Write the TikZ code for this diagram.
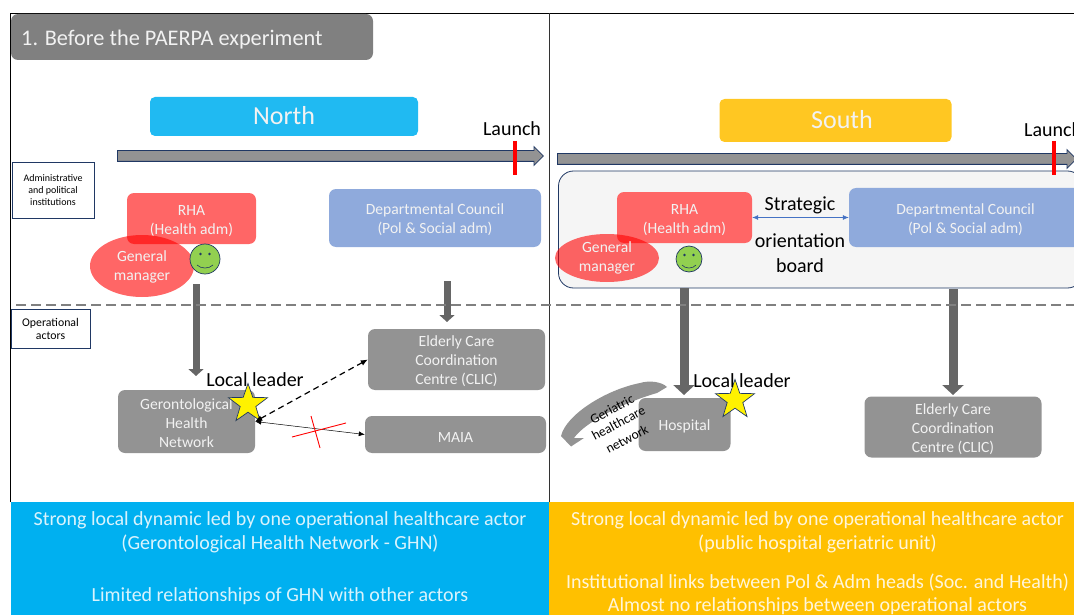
\documentclass[tikz,border=0pt]{standalone}
\usepackage{fontspec}
\setmainfont{Carlito}
\usetikzlibrary{arrows.meta,shapes.geometric,shapes.arrows}
\definecolor{navy}{HTML}{203864}
\definecolor{boxgrey}{HTML}{939393}
\definecolor{darkgrey}{HTML}{666666}
\definecolor{paleblue}{HTML}{8FAADC}
\definecolor{softred}{HTML}{FF6666}
\definecolor{northblue}{HTML}{20BAF2}
\definecolor{southgold}{HTML}{FFC722}
\definecolor{bannerblue}{HTML}{00B0F0}
\definecolor{bannergold}{HTML}{FFC000}
\definecolor{whitish}{HTML}{F2F2F2}
\definecolor{paneltint}{HTML}{F5F5F5}
\definecolor{facegreen}{HTML}{92D050}
\definecolor{linkblue}{HTML}{4472C4}
\newcommand{\fs}[2]{\fontsize{#1}{#2}\selectfont}
\newcommand{\st}{\rule{0pt}{15pt}}
\newcommand{\sm}{\rule{0pt}{12.5pt}}
\tikzset{
  x=1pt,y=-1pt,
  rbox/.style={rectangle,rounded corners=7pt,inner sep=0pt,align=center,text=whitish,font=\fs{15.6}{19}},
  redbox/.style={rbox,fill=softred},
  bluebox/.style={rbox,fill=paleblue},
  greybox/.style={rbox,fill=boxgrey},
  tagbox/.style={rectangle,draw=navy,line width=0.8pt,fill=white,inner sep=0pt,align=center,text=black},
  gm/.style={ellipse,fill=red,fill opacity=.6,text opacity=1,text=whitish,inner sep=0pt,align=center,font=\fs{15.6}{19.5}},
  face/.style={circle,draw=navy,line width=.7pt,fill=facegreen,inner sep=0pt},
  leader/.style={star,star points=5,star point ratio=2.5,draw=navy,line width=.7pt,fill=yellow,inner sep=0pt,minimum size=41pt},
  blocka/.style={draw=darkgrey,line width=7pt,-{Triangle[width=15pt,length=7pt,fill=darkgrey]}},
  blockb/.style={draw=darkgrey,line width=9pt,-{Triangle[width=21pt,length=10pt,fill=darkgrey]}},
  timeline/.style={single arrow,draw=navy,line width=.8pt,fill=boxgrey,anchor=tail,inner sep=0pt,inner ysep=5pt,single arrow head extend=4pt,single arrow head indent=0pt},
  bannertext/.style={align=center,text=white,text opacity=.85,font=\fs{20}{24}},
  label/.style={text=black,font=\fs{20}{24},inner sep=0pt},
  launchbar/.style={draw=red,line width=4pt},
  smalltilt/.style={rotate=28,font=\fs{13.5}{14},text=black,inner sep=0pt},
}
\begin{document}
\begin{tikzpicture}
\path[use as bounding box,clip] (0,0) rectangle (1074,615);
% banners
\fill[bannerblue] (11,502) rectangle (549,615);
\fill[bannergold] (549,502) rectangle (1074,615);
% frame
\draw[black,line width=1.4pt] (10.5,502) -- (10.5,13.5) -- (1074,13.5);
\draw[black!80,line width=.8pt] (549,13.5) -- (549,502);
% title
\node[rectangle,rounded corners=7pt,fill=black!50,minimum width=362pt,minimum height=46pt,inner sep=0pt] (title) at (192,37) {};
\node[anchor=west,text=whitish,font=\fs{22.3}{24},inner sep=0pt] (titletext) at (21,39.5) {1. Before the PAERPA experiment};
% region headers
\node[rbox,fill=northblue,minimum width=268pt,minimum height=39pt,font=\fs{26}{28},rounded corners=5pt] (north) at (284,116.5) {\raisebox{2pt}{North}};
\node[rbox,fill=southgold,minimum width=232pt,minimum height=43pt,font=\fs{26}{28},rounded corners=5pt] (south) at (835.5,120.5) {\hspace*{13pt}\raisebox{2pt}{South}};
% south panel
\node[rectangle,rounded corners=15pt,draw=navy,line width=.8pt,fill=paneltint,minimum width=524pt,minimum height=117pt,inner sep=0pt] (panel) at (820.5,229.5) {};
% timelines
\node[timeline,minimum height=426pt] (tln) at (117,156) {};
\node[timeline,minimum height=519pt] (tls) at (557,159) {};
\node[label,anchor=center] (launchn) at (512,129) {Launch};
\node[label,anchor=west] (launchs) at (1024,130) {Launch};
\coordinate (bar1a) at (515,141); \coordinate (bar1b) at (515,175);
\coordinate (bar2a) at (1054,141); \coordinate (bar2b) at (1054,175);
\draw[launchbar] (bar1a) -- (bar1b);
\draw[launchbar] (bar2a) -- (bar2b);
% side tags
\node[tagbox,minimum width=82pt,minimum height=56pt,font=\fs{10}{12}] (admin) at (53,190) {Administrative\\and political\\institutions};
\node[tagbox,minimum width=79pt,minimum height=39pt,font=\fs{11.8}{13}] (oper) at (50.5,328.5) {Operational\\actors};
% north admin
\node[redbox,minimum width=129pt,minimum height=51pt] (rhan) at (191.5,218.5) {\st RHA\\(Health adm)};
\node[bluebox,minimum width=212pt,minimum height=58pt] (dcn) at (435,218) {\st Departmental Council\\(Pol \& Social adm)};
\node[gm,minimum width=104pt,minimum height=62pt] (gmn) at (142,266) {\sm General\\manager};
\node[face,minimum size=30pt] (fn) at (205,259) {};
\fill[navy] (200.5,254) circle (1.4pt) (209.5,254) circle (1.4pt);
\draw[navy,line width=.6pt] (197,265) .. controls (201,269) and (209,269) .. (213,265);
% south admin
\node[redbox,minimum width=135pt,minimum height=51pt] (rhas) at (684.5,217.5) {\st RHA\\(Health adm)};
\node[bluebox,minimum width=233pt,minimum height=59pt] (dcs) at (965.5,217.5) {\st Departmental Council\\(Pol \& Social adm)};
\node[gm,minimum width=104pt,minimum height=48pt] (gms) at (607,258) {General\\manager};
\node[face,minimum size=26pt] (fs) at (689,259) {};
\fill[navy] (684.5,255) circle (1.3pt) (693.5,255) circle (1.3pt);
\draw[navy,line width=.6pt] (682,265) .. controls (685,269) and (693,269) .. (696,265);
\draw[{Latex[length=6pt,width=5pt]}-{Latex[length=6pt,width=5pt]},draw=linkblue,line width=.7pt] (rhas.east) -- (dcs.west);
\node[label] (sob1) at (800,205.5) {Strategic};
\node[label] (sob2) at (800,241) {orientation};
\node[label] (sob3) at (800,266) {board};
% operational boxes north
\node[greybox,minimum width=177pt,minimum height=61pt] (ccn) at (456.5,359.5) {\st Elderly Care\\Coordination\\Centre (CLIC)};
\node[greybox,minimum width=137pt,minimum height=63pt] (ghn) at (186.5,421.5) {\st Gerontological\\Health\\Network};
\node[greybox,minimum width=181pt,minimum height=37pt] (maia) at (455.5,434.5) {\st MAIA};
\coordinate (a1s) at (196,284); \coordinate (a1e) at (196,376);
\coordinate (a2s) at (447,281); \coordinate (a2e) at (447,322);
\draw[blocka] (a1s) -- (a1e);
\draw[blocka] (a2s) -- (a2e);
\node[leader] (starn) at (248,404) {};
\node[label] (lln) at (255,380) {Local leader};
\draw[black,line width=1.2pt,dash pattern=on 6pt off 4pt,{Latex[length=7pt,width=6pt]}-{Latex[length=7pt,width=6pt]}] (ghn.east) -- (ccn.west);
\draw[black,line width=.5pt,{Latex[length=6pt,width=5pt]}-{Latex[length=6pt,width=5pt]}] (ghn.east) -- (maia.west);
\coordinate (x1a) at (292,437); \coordinate (x1b) at (346,423);
\coordinate (x2a) at (311,416); \coordinate (x2b) at (320,448);
\draw[red,line width=.9pt] (x1a) -- (x1b);
\draw[red,line width=.9pt] (x2a) -- (x2b);
% operational boxes south
\coordinate (a3s) at (684,288); \coordinate (a3e) at (684,395);
\coordinate (a4s) at (953,289); \coordinate (a4e) at (953,395);
\draw[blockb] (a3s) -- (a3e);
\draw[blockb] (a4s) -- (a4e);
% divider
\coordinate (divl) at (16,304.5); \coordinate (divr) at (1074,304.5);
\draw[gray,line width=2pt,dash pattern=on 10pt off 5pt] (divl) -- (divr);
\node[greybox,minimum width=92pt,minimum height=53pt] (hosp) at (684.5,424.5) {\st Hospital};
\node[greybox,minimum width=177pt,minimum height=61pt] (ccs) at (953,427) {\st Elderly Care\\Coordination\\Centre (CLIC)};
\fill[boxgrey] (667,387) .. controls (662,382) and (650,380) .. (640,383)
  .. controls (605,390) and (566,415) .. (561,436) -- (571,446.5) -- (584,438) -- (574,438)
  .. controls (585,422) and (625,402) .. (657,393) -- cycle;
\node[leader] (stars) at (735,400) {};
\node[label] (lls) at (742,381) {Local leader};
\node[smalltilt] (g1) at (612,409) {Geriatric};
\node[smalltilt] (g2) at (618.5,423) {healthcare};
\node[smalltilt] (g3) at (627,439) {network};
% banner text
\node[bannertext] (bn1) at (280,520) {Strong local dynamic led by one operational healthcare actor};
\node[bannertext] (bn2) at (280,544) {(Gerontological Health Network - GHN)};
\node[bannertext] (bn3) at (280,596) {Limited relationships of GHN with other actors};
\node[bannertext] (bs1) at (817.5,520) {Strong local dynamic led by one operational healthcare actor};
\node[bannertext] (bs2) at (817.5,544) {(public hospital geriatric unit)};
\node[bannertext] (bs3) at (817.5,583) {Institutional links between Pol \& Adm heads (Soc. and Health)};
\node[bannertext] (bs4) at (817.5,606) {Almost no relationships between operational actors};
\end{tikzpicture}
\end{document}
